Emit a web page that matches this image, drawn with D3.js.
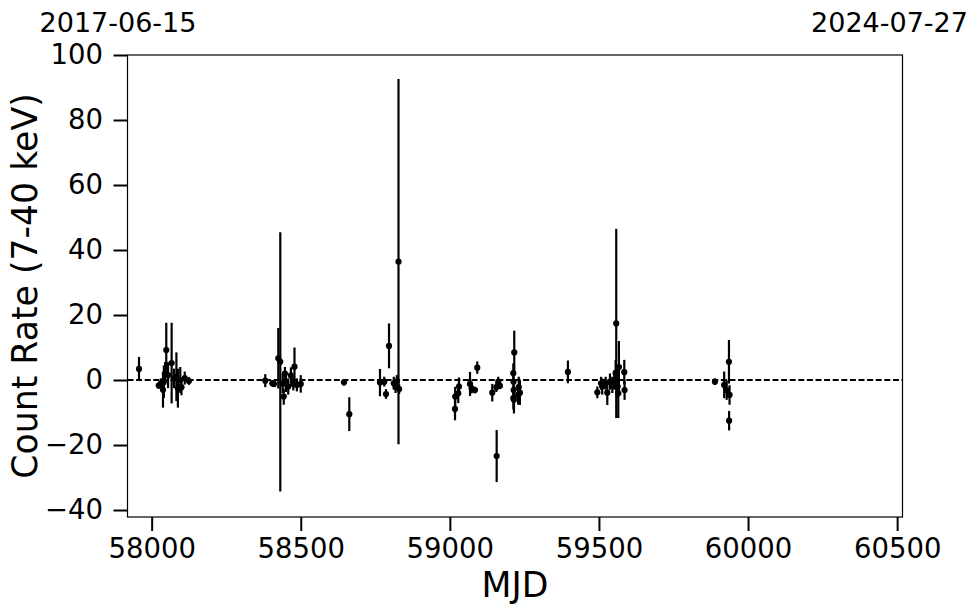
<!DOCTYPE html>
<html><head><meta charset="utf-8">
<script src="https://d3js.org/d3.v7.min.js"></script>
<style>body{margin:0;background:#fff;}svg{display:block;}</style>
</head><body>
<svg id="c" width="980" height="613"></svg>
<script>
const mjd = [57957.6, 58023.6, 58031, 58038, 58041, 58045, 58049, 58055, 58067, 58075, 58083, 58088, 58096, 58100, 58111, 58125,
  58381, 58404.6, 58410, 58424.7, 58431.4, 58439.5, 58443, 58447, 58450.5, 58458, 58467, 58475, 58479, 58487, 58500,
  58645, 58662.8, 58765.7, 58780, 58785.9, 58796, 58812, 58818, 58822, 58827.8, 58830,
  59017.3, 59018, 59028.3, 59030.7, 59067.6, 59073.3, 59084.3, 59092, 59142.3, 59157, 59156, 59162.5, 59168,
  59216, 59212.8, 59213.5, 59214, 59213, 59215, 59229, 59231, 59235,
  59396,
  59494.5, 59507, 59511, 59522.6, 59528, 59537, 59544.8, 59551.5, 59556, 59558, 59562.9, 59564.9, 59567, 59585, 59586,
  59889, 59920, 59928.4, 59936, 59936.5, 59938];
const rate = [3.4, -1.7, -1.0, -3.0, -0.5, 2.0, 9.2, 1.5, 5.2, 0.5, 1.0, -2.5, 0.0, -2.2, 0.6, -0.3,
  -0.2, -1.0, -1.2, 6.7, 5.6, -1.0, -5.1, 2.0, -1.2, -2.0, 1.4, -1.2, 4.1, -1.5, -1.2,
  -0.7, -10.5, -0.8, -0.5, -4.3, 10.5, -1.0, -2.0, -0.5, 36.4, -2.8,
  -8.9, -5.1, -4.1, -2.0, -1.2, -2.6, -3.1, 3.8, -3.9, -23.4, -2.2, -0.5, -1.8,
  8.5, 2.1, -0.5, -3.1, -5.6, -6.1, -4.6, -2.2, -3.9,
  2.5,
  -3.8, -1.0, -2.0, -1.0, -3.9, -0.5, -1.5, 0.0, 2.1, 17.4, -2.0, -4.1, 4.0, 2.4, -3.1,
  -0.5, -1.5, -3.1, 5.6, -12.5, -4.6];
const rateErr = [3.7, 1.0, 1.5, 5.5, 5.0, 3.5, 8.4, 4.0, 12.4, 3.0, 7.5, 6.0, 4.0, 2.5, 2.0, 1.2,
  2.0, 1.0, 1.0, 9.3, 39.9, 3.0, 2.5, 2.0, 2.5, 2.5, 2.5, 2.0, 5.9, 2.0, 2.7,
  1.0, 5.2, 4.2, 1.5, 1.5, 6.9, 2.0, 2.0, 2.0, 56.2, 1.5,
  3.5, 3.0, 3.0, 2.8, 3.7, 1.5, 1.0, 1.9, 2.7, 8.0, 1.5, 1.5, 1.0,
  6.7, 3.0, 3.5, 3.0, 3.5, 4.2, 3.0, 3.2, 3.8,
  3.5,
  1.8, 2.0, 2.5, 2.0, 3.8, 2.5, 2.5, 3.0, 4.0, 29.1, 3.5, 7.6, 8.0, 3.8, 3.0,
  1.0, 4.1, 3.0, 6.7, 3.0, 3.0];
const xTicks = [58000, 58500, 59000, 59500, 60000, 60500];
const yTicks = [-40, -20, 0, 20, 40, 60, 80, 100];
const xDomain = [57919, 60518];
const yDomain = [-42.15, 100.0];
const dateLabels = ["2017-06-15", "2024-07-27"];
const xLabel = "MJD";
const yLabel = "Count Rate (7-40 keV)";

const svg = d3.select("#c");
const L = 127.5, R = 902.5, T = 55, B = 517;
const x = d3.scaleLinear().domain(xDomain).range([L, R]);
const y = d3.scaleLinear().domain(yDomain).range([B, T]);
const font = "DejaVu Sans, sans-serif";
const fmt = d => d < 0 ? "\u2212" + Math.abs(d) : String(d);

// zero line
svg.append("line").attr("x1", L).attr("x2", R).attr("y1", y(0)).attr("y2", y(0))
  .attr("stroke", "#000").attr("stroke-width", 1.8).attr("stroke-dasharray", "6,2.6");

const data = mjd.map((m, i) => ({m, r: rate[i], e: rateErr[i]}));
const g = svg.append("g");
g.selectAll("line.eb").data(data).join("line").attr("class", "eb")
  .attr("x1", d => x(d.m)).attr("x2", d => x(d.m))
  .attr("y1", d => y(d.r - d.e)).attr("y2", d => y(d.r + d.e))
  .attr("stroke", "#000").attr("stroke-width", 2.2);
g.selectAll("circle").data(data).join("circle")
  .attr("cx", d => x(d.m)).attr("cy", d => y(d.r)).attr("r", 3.1).attr("fill", "#000");

// frame
svg.append("rect").attr("x", L).attr("y", T).attr("width", R - L).attr("height", B - T)
  .attr("fill", "none").attr("stroke", "#000").attr("stroke-width", 1.2);

const xa = svg.append("g").attr("transform", `translate(0,${B})`)
  .call(d3.axisBottom(x).tickValues(xTicks).tickFormat(fmt).tickSize(14).tickPadding(7.5));
const ya = svg.append("g").attr("transform", `translate(${L},0)`)
  .call(d3.axisLeft(y).tickValues(yTicks).tickFormat(fmt).tickSize(14).tickPadding(10.5));
[xa, ya].forEach(a => {
  a.select(".domain").remove();
  a.selectAll(".tick line").attr("stroke", "#000").attr("stroke-width", 2);
  a.selectAll(".tick text").attr("fill", "#000").style("font-family", font).style("font-size", "27.5px");
});

svg.append("text").attr("x", 118).attr("y", 32).attr("text-anchor", "middle")
  .style("font-family", font).style("font-size", "27px").text(dateLabels[0]);
svg.append("text").attr("x", 889.5).attr("y", 32).attr("text-anchor", "middle")
  .style("font-family", font).style("font-size", "27px").text(dateLabels[1]);

svg.append("text").attr("x", (L + R) / 2).attr("y", 597).attr("text-anchor", "middle")
  .style("font-family", font).style("font-size", "34.7px").text(xLabel);
svg.append("text").attr("transform", `translate(37,${(T + B) / 2}) rotate(-90)`).attr("text-anchor", "middle")
  .style("font-family", font).style("font-size", "34.7px").text(yLabel);
</script>
</body></html>
